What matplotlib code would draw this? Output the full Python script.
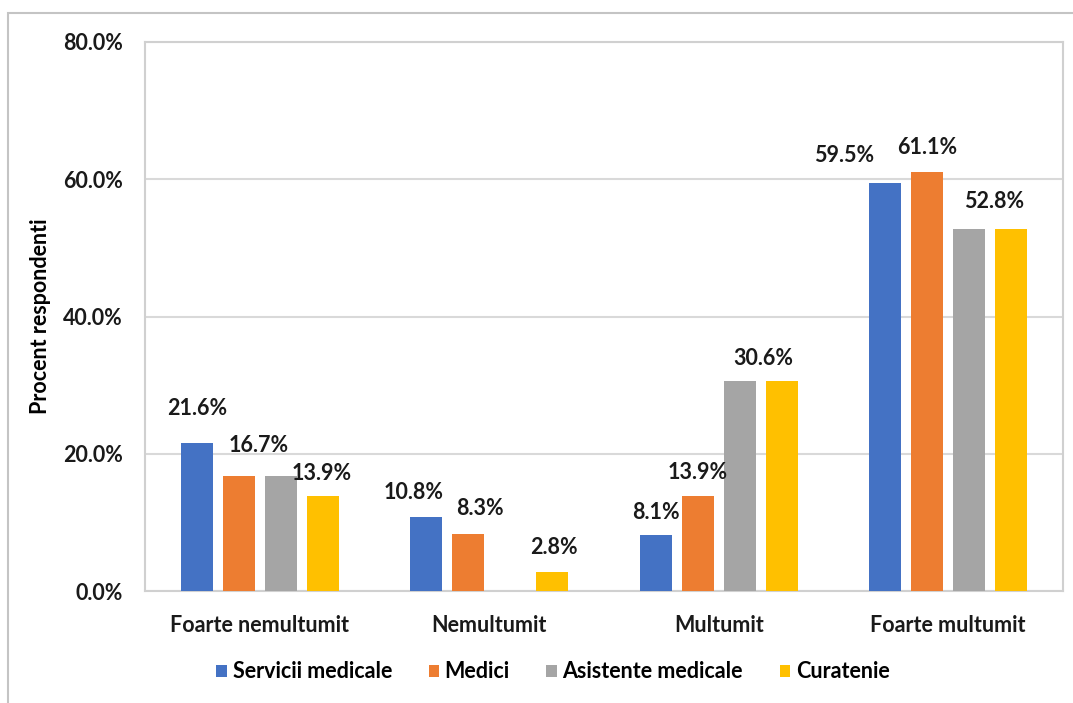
"""
Grad de multumire - procent respondenti pe categorii
"""
import matplotlib
matplotlib.use('Agg')
import matplotlib.pyplot as plt
from matplotlib.patches import Rectangle
from matplotlib.transforms import offset_copy

# Date
categories = ['Foarte nemultumit', 'Nemultumit', 'Multumit', 'Foarte multumit']
series_names = ['Servicii medicale', 'Medici', 'Asistente medicale', 'Curatenie']
servicii = [21.6, 10.8, 8.1, 59.5]
medici = [16.7, 8.3, 13.9, 61.1]
asistente = [16.7, 0.0, 30.6, 52.8]
curatenie = [13.9, 2.8, 30.6, 52.8]
y_ticks = [0, 20, 40, 60, 80]

# Etichete afisate pe categorie (ca in Excel, unele sunt ascunse)
show_labels = [
    [True, True, False, True],
    [True, True, False, True],
    [True, True, True, False],
    [True, True, True, False],
]

# Deplasarea etichetelor pe categorie (pixeli: dx, dy deasupra barei)
label_offsets = [
    [(0, 34), (20, 31), (0, 24), (-1, 22)],
    [(-13, 24), (12, 26), (0, 24), (2, 24)],
    [(0, 23), (0, 23), (23.5, 23), (0, 24)],
    [(-41, 27), (0, 24), (25, 27), (0, 24)],
]

COLORS = ['#4472C4', '#ED7D31', '#A5A5A5', '#FFC000']
FONT = 'Lato'
PX = 0.72  # pixeli -> puncte la dpi 100
FS = 15.5

plt.rcParams['font.family'] = [FONT, 'DejaVu Sans']

fig = plt.figure(figsize=(10.73, 7.03), dpi=100)
ax = fig.add_axes([145 / 1073, 1 - 591 / 703, (1063 - 145) / 1073, (591 - 42) / 703])

# chenar exterior
fig.patches.append(Rectangle((8 / 1073, -0.05), 1.1, 1 - 13 / 703 + 0.05,
                             transform=fig.transFigure, fill=False,
                             edgecolor='#c4c4c4', linewidth=1.5, zorder=0))

series = [servicii, medici, asistente, curatenie]
pitch = 42 / 229.5
width = 32 / 229.5
for i, vals in enumerate(series):
    xs = [c + (i - 1.5) * pitch for c in range(len(categories))]
    ax.bar(xs, vals, width=width, color=COLORS[i], label=series_names[i], zorder=3)
    for j, (x, v) in enumerate(zip(xs, vals)):
        if not show_labels[j][i]:
            continue
        dx, dy = label_offsets[j][i]
        tr = offset_copy(ax.transData, fig=fig, x=dx * PX, y=dy * PX, units='points')
        ax.text(x, v, f'{v:.1f}%', transform=tr, ha='center', va='center',
                fontsize=FS, fontweight='bold', color='#1a1a1a', zorder=5)

ax.set_xlim(-0.5, 3.5)
ax.set_ylim(0, 80)
ax.set_yticks(y_ticks)
ax.set_yticklabels([f'{t:.1f}%' for t in y_ticks], fontsize=FS, fontweight='bold')
ax.set_xticks(range(len(categories)))
ax.set_xticklabels(categories, fontsize=FS, fontweight='bold')
ax.tick_params(axis='both', length=0, colors='#1a1a1a')
ax.tick_params(axis='y', pad=16)
ax.tick_params(axis='x', pad=17)
ax.grid(axis='y', color='#d9d9d9', linewidth=1.5, zorder=0)
for s in ax.spines.values():
    s.set_color('#d0d0d0')
    s.set_linewidth(1.5)

ax.set_ylabel('Procent respondenti', fontsize=15.5, fontweight='bold')
ax.yaxis.set_label_coords(-(145 - 51) / 918, 0.5)

ax.legend(loc='center', bbox_to_anchor=((553 - 145) / 918, -(672 - 591) / 549),
          ncol=4, frameon=False, handlelength=0.5, handleheight=0.5,
          handletextpad=0.25, columnspacing=1.7,
          prop={'weight': 'bold', 'size': FS})

fig.savefig('out.png', dpi=100)
